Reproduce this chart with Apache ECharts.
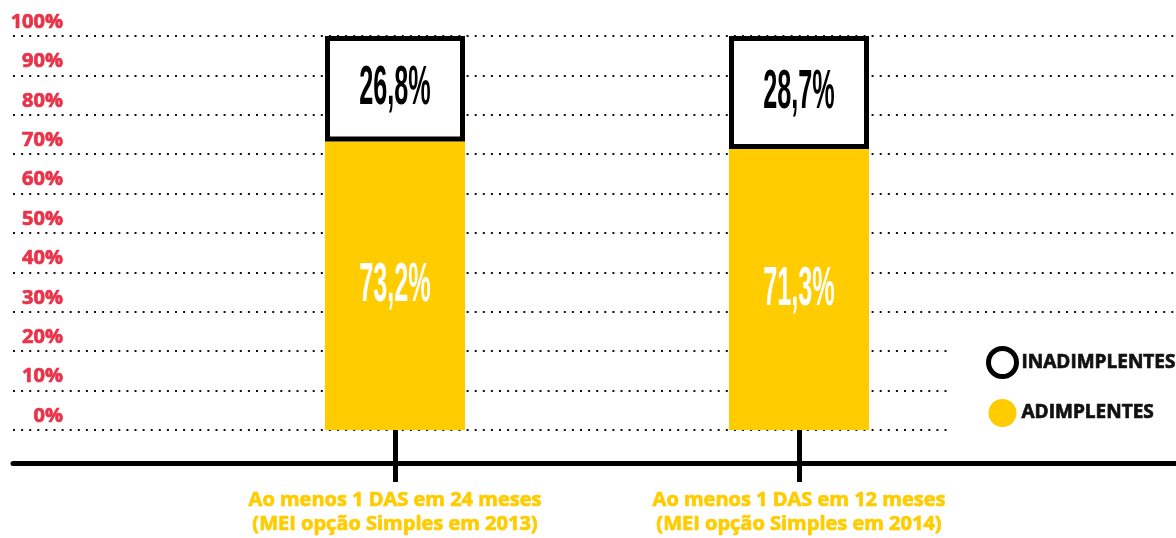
<!DOCTYPE html>
<html>
<head>
<meta charset="utf-8">
<script src="https://cdn.jsdelivr.net/npm/echarts@6/dist/echarts.min.js"></script>
<style>
  html, body { margin: 0; padding: 0; background: #fff; }
  #chart { width: 1176px; height: 538px; }
</style>
</head>
<body>
<div id="chart"></div>
<script>
// data
const categories = [
  'Ao menos 1 DAS em 24 meses\n(MEI opção Simples em 2013)',
  'Ao menos 1 DAS em 12 meses\n(MEI opção Simples em 2014)'
];
const adimplentes = [73.2, 71.3];
const inadimplentes = [26.8, 28.7];
const yTicks = [0, 10, 20, 30, 40, 50, 60, 70, 80, 90, 100];

const YELLOW = '#ffcc00';
const RED = '#e8334a';
const FONT = '"Open Sans", "Noto Sans", sans-serif';

function fmt(v) {
  return v.toFixed(1).replace('.', ',') + '%';
}

// label points: middle of each stacked segment
const labelPoints = [];
categories.forEach((c, i) => {
  labelPoints.push({ value: [i, adimplentes[i] / 2], text: fmt(adimplentes[i]), fill: '#fff' });
  labelPoints.push({ value: [i, adimplentes[i] + inadimplentes[i] / 2], text: fmt(inadimplentes[i]), fill: '#000' });
});

const chart = echarts.init(document.getElementById('chart'));

const option = {
  backgroundColor: '#fff',
  animation: false,
  grid: [
    { left: 13, right: 0, top: 36, bottom: 108 },
    { left: 193, right: 175, top: 36, bottom: 108 }
  ],
  xAxis: [
    {
      gridIndex: 0,
      type: 'value',
      min: 0,
      max: 1,
      offset: 33,
      axisLine: { show: true, onZero: false, lineStyle: { color: '#000', width: 5 } },
      axisTick: { show: false },
      axisLabel: { show: false },
      splitLine: { show: false }
    },
    {
      gridIndex: 1,
      type: 'category',
      data: categories,
      axisLine: { show: false },
      axisTick: { show: true, alignWithLabel: true, length: 52, lineStyle: { color: '#000', width: 5 } },
      axisLabel: {
        color: YELLOW,
        fontFamily: FONT,
        fontWeight: 'bold',
        fontSize: 20,
        lineHeight: 24,
        margin: 58,
        textBorderColor: YELLOW,
        textBorderWidth: 0.7
      }
    }
  ],
  yAxis: [
    {
      gridIndex: 0,
      type: 'value',
      min: yTicks[0],
      max: yTicks[yTicks.length - 1],
      interval: yTicks[1] - yTicks[0],
      axisLine: { show: false },
      axisTick: { show: false },
      axisLabel: {
        color: RED,
        fontFamily: FONT,
        fontWeight: 'bold',
        fontSize: 20,
        align: 'right',
        verticalAlign: 'bottom',
        margin: -50,
        padding: [0, 0, 4, 0],
        textBorderColor: RED,
        textBorderWidth: 0.7,
        formatter: '{value}%'
      },
      splitLine: { show: true, lineStyle: { color: '#111', width: 2, type: [2, 6.1] } }
    },
    {
      gridIndex: 1,
      type: 'value',
      min: 0,
      max: 100,
      show: false
    }
  ],
  legend: {
    orient: 'vertical',
    left: 948,
    top: 330,
    padding: [16, 10, 13, 38],
    backgroundColor: '#fff',
    itemWidth: 28,
    itemHeight: 28,
    itemGap: 20,
    icon: 'circle',
    textStyle: {
      color: '#111', fontFamily: FONT, fontWeight: 'bold', fontSize: 19,
      textBorderColor: '#111', textBorderWidth: 0.7
    },
    data: [
      { name: 'INADIMPLENTES', itemStyle: { color: '#fff', borderColor: '#000', borderWidth: 5 } },
      { name: 'ADIMPLENTES', itemStyle: { color: YELLOW, borderWidth: 0 } }
    ]
  },
  series: [
    {
      name: 'ADIMPLENTES',
      type: 'bar',
      stack: 'total',
      xAxisIndex: 1,
      yAxisIndex: 1,
      barWidth: 140,
      data: adimplentes,
      itemStyle: { color: YELLOW }
    },
    {
      name: 'INADIMPLENTES',
      type: 'bar',
      stack: 'total',
      xAxisIndex: 1,
      yAxisIndex: 1,
      barWidth: 140,
      data: inadimplentes,
      itemStyle: { color: '#fff', borderColor: '#000', borderWidth: 5 }
    },
    {
      name: 'labels',
      type: 'custom',
      xAxisIndex: 1,
      yAxisIndex: 1,
      silent: true,
      z: 5,
      data: labelPoints.map(p => p.value),
      renderItem: function (params, api) {
        const p = labelPoints[params.dataIndex];
        const pt = api.coord([api.value(0), api.value(1)]);
        return {
          type: 'text',
          x: pt[0],
          y: pt[1],
          scaleX: 0.45,
          style: {
            text: p.text,
            fill: p.fill,
            font: 'bold 56px "Liberation Sans", sans-serif',
            align: 'center',
            verticalAlign: 'middle'
          }
        };
      }
    }
  ]
};

chart.setOption(option);
window.addEventListener('resize', () => chart.resize());
</script>
</body>
</html>
